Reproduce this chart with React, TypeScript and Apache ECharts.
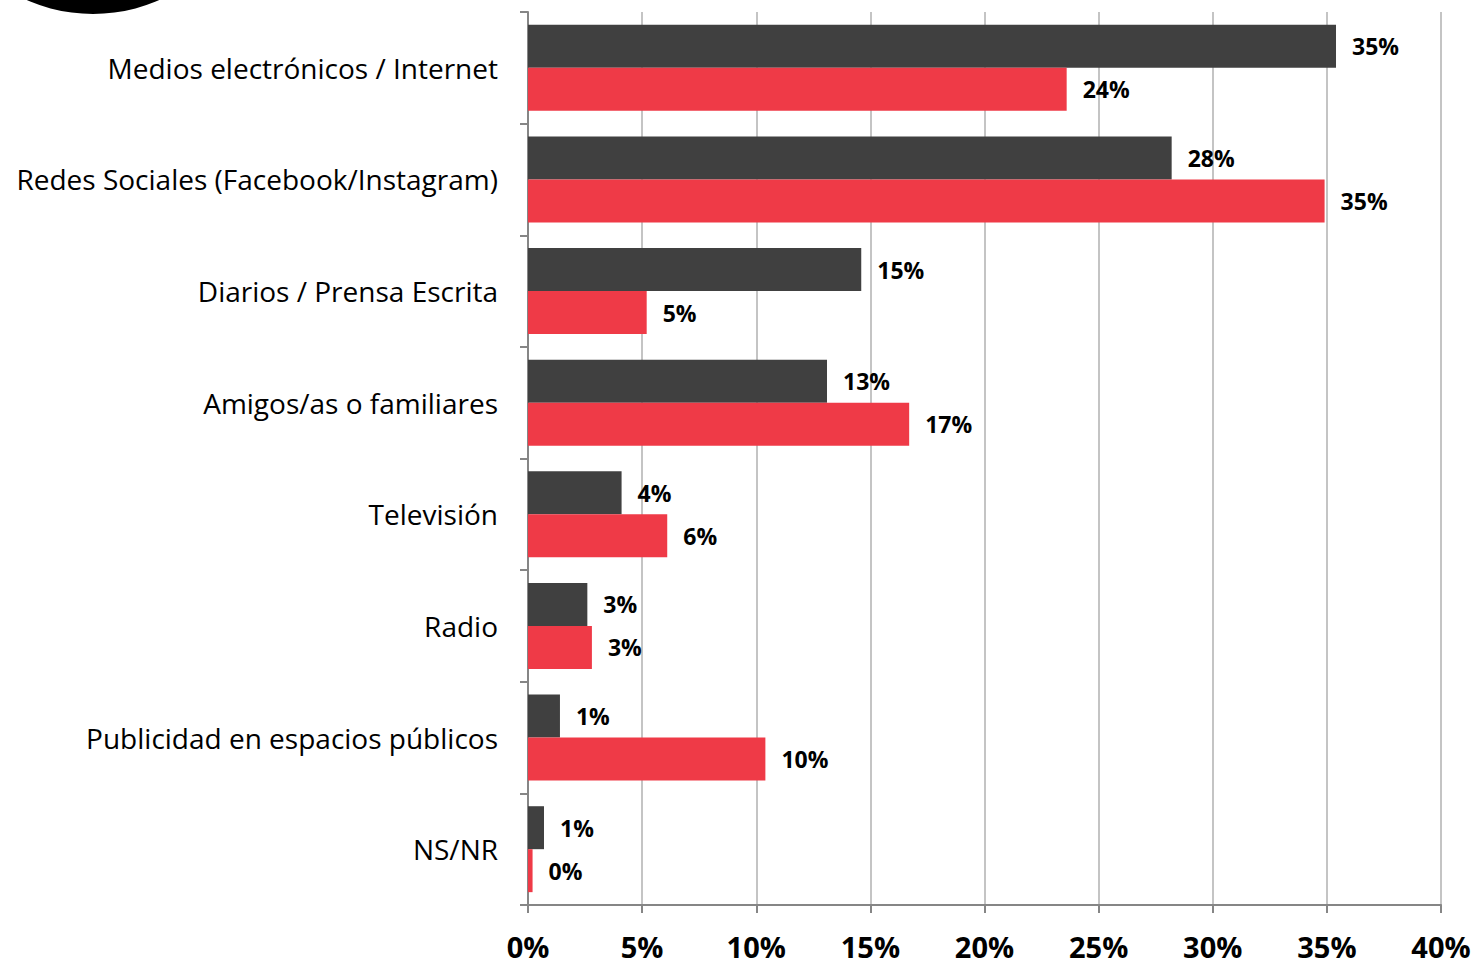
import React, { useEffect, useRef } from "react";
import * as echarts from "echarts";

const categories = [
  "Medios electrónicos / Internet",
  "Redes Sociales (Facebook/Instagram)",
  "Diarios / Prensa Escrita",
  "Amigos/as o familiares",
  "Televisión",
  "Radio",
  "Publicidad en espacios públicos",
  "NS/NR",
];
const seriesDark = [35.4, 28.2, 14.6, 13.1, 4.1, 2.6, 1.4, 0.7];
const seriesRed = [23.6, 34.9, 5.2, 16.7, 6.1, 2.8, 10.4, 0.2];
const xTicks = [0, 5, 10, 15, 20, 25, 30, 35, 40];

const FONT = "'Open Sans', sans-serif";

export default function App() {
  const ref = useRef<HTMLDivElement>(null);
  useEffect(() => {
    if (!ref.current) return;
    const chart = echarts.init(ref.current, null, { renderer: "svg" });
    const labelCfg = {
      show: true,
      position: "right",
      distance: 16,
      fontFamily: FONT,
      fontWeight: "bold",
      fontSize: 23,
      color: "#000",
      formatter: (p: any) => Math.round(p.value) + "%",
    };
    chart.setOption({
      animation: false,
      backgroundColor: "#fff",
      graphic: [
        {
          type: "circle",
          shape: { cx: 93, cy: -150, r: 164 },
          style: { fill: "#000" },
        },
      ],
      grid: { left: 528, right: 36, top: 12, bottom: 63, containLabel: false },
      xAxis: {
        type: "value",
        min: xTicks[0],
        max: xTicks[xTicks.length - 1],
        interval: 5,
        axisLine: { show: true, lineStyle: { color: "#868686", width: 2 } },
        axisTick: { show: true, length: 8, lineStyle: { color: "#868686", width: 2 } },
        splitLine: { show: true, lineStyle: { color: "#c4c4c4", width: 2 } },
        axisLabel: {
          formatter: (v: number) => v + "%",
          fontFamily: FONT,
          fontWeight: "bold",
          fontSize: 29,
          lineHeight: 29,
          color: "#000",
          margin: 27,
        },
      },
      yAxis: {
        type: "category",
        data: categories,
        inverse: true,
        axisLine: { show: true, lineStyle: { color: "#868686", width: 2 } },
        axisTick: { show: true, length: 8, lineStyle: { color: "#868686", width: 2 } },
        axisLabel: {
          fontFamily: FONT,
          fontSize: 28,
          color: "#000",
          margin: 30,
        },
      },
      series: [
        {
          type: "bar",
          data: seriesDark,
          itemStyle: { color: "#404040" },
          barGap: "0%",
          barCategoryGap: "23%",
          label: labelCfg,
        },
        {
          type: "bar",
          data: seriesRed,
          itemStyle: { color: "#EF3A47" },
          barGap: "0%",
          barCategoryGap: "23%",
          label: labelCfg,
        },
      ],
    });
    return () => chart.dispose();
  }, []);
  return <div ref={ref} style={{ width: 1477, height: 968, position: "absolute", left: 0, top: 0 }} />;
}
